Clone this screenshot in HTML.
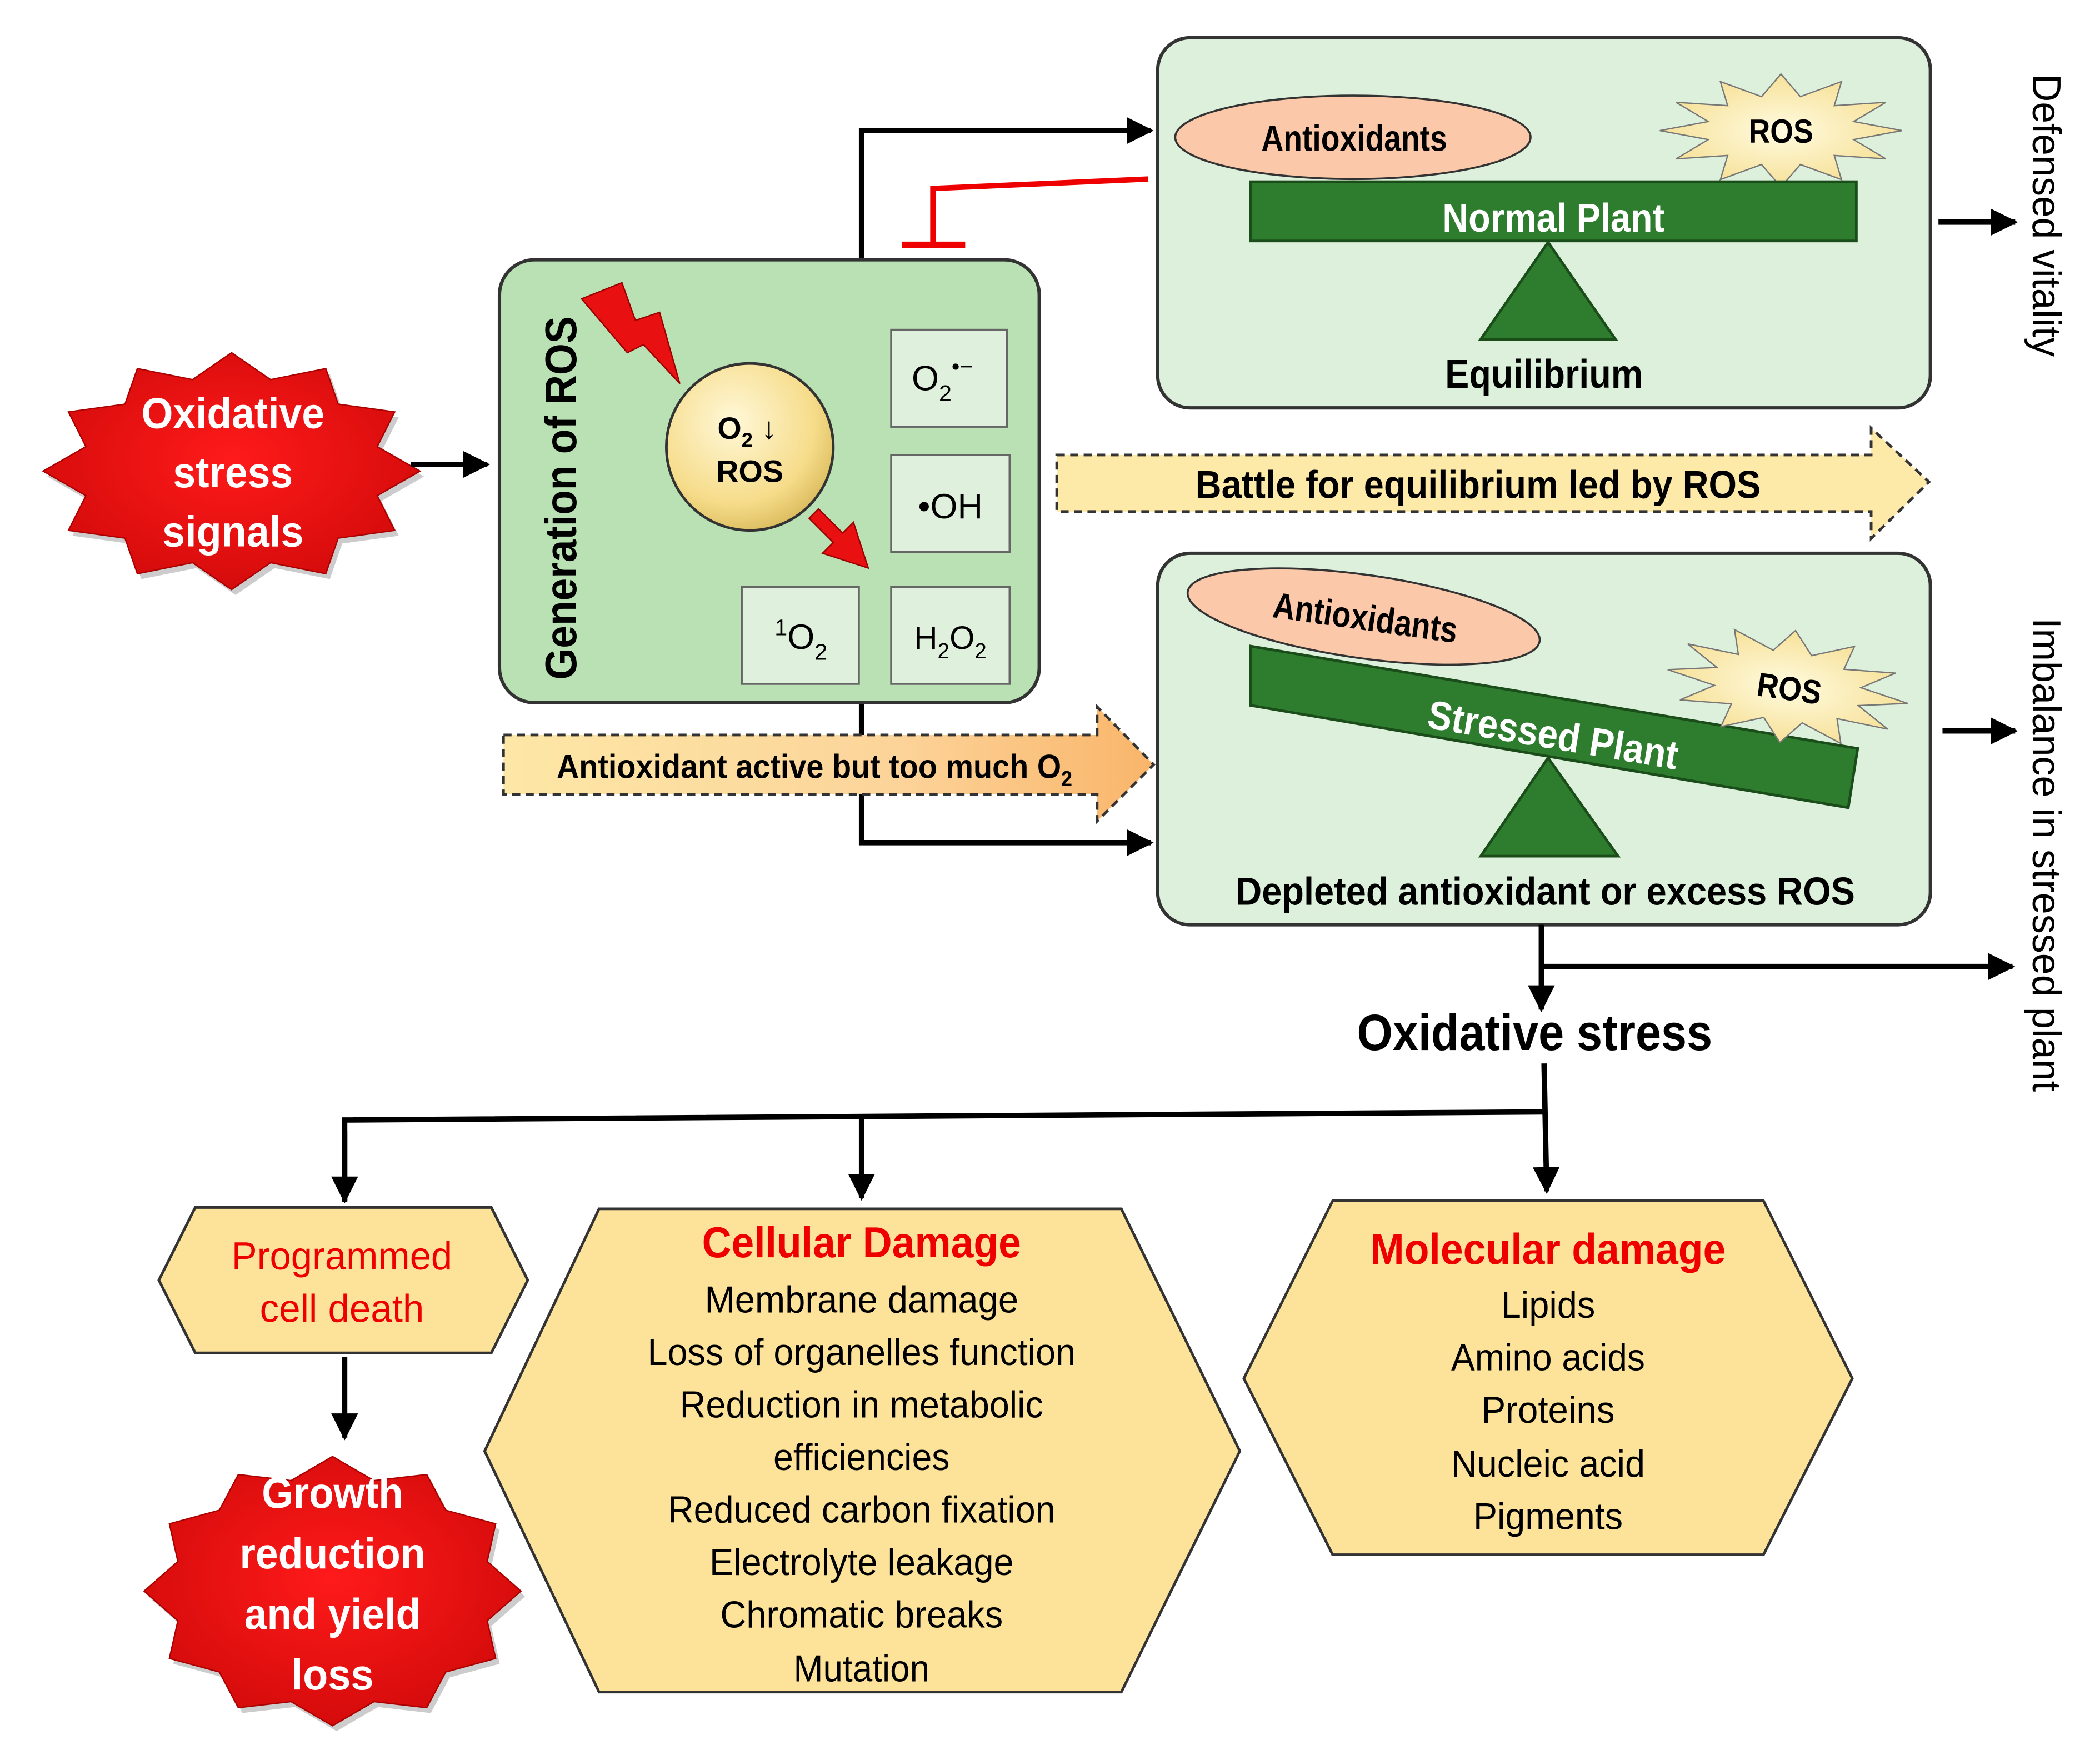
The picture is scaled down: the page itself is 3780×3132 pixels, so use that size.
<!DOCTYPE html>
<html><head><meta charset="utf-8"><style>
html,body{margin:0;padding:0;background:#fff}
svg{display:block}
text{font-family:"Liberation Sans",sans-serif}
</style></head><body>
<svg width="3780" height="3132" viewBox="0 0 1560 1292.6" xmlns="http://www.w3.org/2000/svg">
<defs>
<marker id="ah" viewBox="0 0 10 10" refX="9" refY="5" markerWidth="5" markerHeight="5" orient="auto" markerUnits="strokeWidth"><path d="M0,0 L10,5 L0,10 z" fill="#000"/></marker>
<radialGradient id="cg" cx="0.4" cy="0.35" r="0.7"><stop offset="0" stop-color="#fff8d8"/><stop offset="0.7" stop-color="#f6dc8a"/><stop offset="1" stop-color="#d9b95a"/></radialGradient>
<radialGradient id="rg" cx="0.5" cy="0.45" r="0.6"><stop offset="0" stop-color="#ff1a1a"/><stop offset="1" stop-color="#d10a0a"/></radialGradient>
<radialGradient id="yg" cx="0.5" cy="0.5" r="0.6"><stop offset="0" stop-color="#fffbe0"/><stop offset="1" stop-color="#f5dc8a"/></radialGradient>
<linearGradient id="og" x1="0" x2="1" y1="0" y2="0"><stop offset="0" stop-color="#fde7a6"/><stop offset="0.6" stop-color="#fcd49a"/><stop offset="1" stop-color="#f9b56a"/></linearGradient>
<polygon id="ros" points="1413,97 1377,103.7 1400.9,118 1362.6,115.5 1368,133.4 1337.4,122.2 1323,139 1308.6,122.2 1278,133.4 1283.4,115.5 1245.1,118 1269,103.7 1233,97 1269,90.3 1245.1,76 1283.4,78.5 1278,60.6 1308.6,71.8 1323,55 1337.4,71.8 1368,60.6 1362.6,78.5 1400.9,76 1377,90.3"/>
</defs>
<g font-stretch="condensed">
<polygon transform="translate(3,4)" fill="#999" opacity="0.5" points="312,350 280.2,368.2 293.2,394 251.2,399.8 242,426.2 201,418 172,438 143,418 102,426.2 92.8,399.8 50.8,394 63.8,368.2 32,350 63.8,331.8 50.8,306 92.8,300.2 102,273.8 143,282 172,262 201,282 242,273.8 251.2,300.2 293.2,306 280.2,331.8"/>
<polygon fill="url(#rg)" stroke="#a00" stroke-width="1" points="312,350 280.2,368.2 293.2,394 251.2,399.8 242,426.2 201,418 172,438 143,418 102,426.2 92.8,399.8 50.8,394 63.8,368.2 32,350 63.8,331.8 50.8,306 92.8,300.2 102,273.8 143,282 172,262 201,282 242,273.8 251.2,300.2 293.2,306 280.2,331.8"/>
<text x="173" y="318" font-size="32" font-weight="bold" fill="#fff" text-anchor="middle" textLength="136" lengthAdjust="spacingAndGlyphs">Oxidative</text>
<text x="173" y="362" font-size="32" font-weight="bold" fill="#fff" text-anchor="middle" textLength="89" lengthAdjust="spacingAndGlyphs">stress</text>
<text x="173" y="406" font-size="32" font-weight="bold" fill="#fff" text-anchor="middle" textLength="105" lengthAdjust="spacingAndGlyphs">signals</text>
<line x1="305" y1="345" x2="362" y2="345" stroke="#000" stroke-width="4" marker-end="url(#ah)"/>

<polyline points="640,193 640,97 855,97" fill="none" stroke="#000" stroke-width="4" marker-end="url(#ah)"/>
<polyline points="640,522 640,626 855,626" fill="none" stroke="#000" stroke-width="4" marker-end="url(#ah)"/>
<polyline points="853,133 693,140 693,182" fill="none" stroke="#e00" stroke-width="4"/>
<line x1="670" y1="182" x2="717" y2="182" stroke="#e00" stroke-width="5"/>

<rect x="371" y="193" width="401" height="329" rx="26" fill="#b9e1b3" stroke="#333" stroke-width="2.5"/>
<text transform="translate(428,370) rotate(-90)" font-size="33" font-weight="bold" text-anchor="middle" textLength="270" lengthAdjust="spacingAndGlyphs">Generation of ROS</text>
<polygon points="432,222 462,210 472,238 490,232 505,285 478,256 466,262" fill="#e81010" stroke="#900" stroke-width="1"/>
<circle cx="557" cy="332" r="62" fill="url(#cg)" stroke="#333" stroke-width="2"/>
<text x="555" y="326" font-size="23" font-weight="bold" text-anchor="middle">O<tspan font-size="15" dy="6">2</tspan><tspan dy="-6"> ↓</tspan></text>
<text x="557" y="358" font-size="23" font-weight="bold" text-anchor="middle">ROS</text>
<polygon points="608,378 626,396 634,388 645,422 611,411 619,403 601,385" fill="#e81010" stroke="#900" stroke-width="1"/>
<rect x="662" y="245" width="86" height="72" fill="#dff0dc" stroke="#666" stroke-width="1.5"/>
<text x="700" y="290" font-size="26" text-anchor="middle">O<tspan font-size="17" dy="8">2</tspan><tspan font-size="17" dy="-20">•−</tspan></text>
<rect x="662" y="338" width="88" height="72" fill="#dff0dc" stroke="#666" stroke-width="1.5"/>
<text x="706" y="385" font-size="26" text-anchor="middle">•OH</text>
<rect x="551" y="436" width="87" height="72" fill="#dff0dc" stroke="#666" stroke-width="1.5"/>
<text x="595" y="482" font-size="26" text-anchor="middle"><tspan font-size="17" dy="-10">1</tspan><tspan dy="10">O</tspan><tspan font-size="17" dy="8">2</tspan></text>
<rect x="662" y="436" width="88" height="72" fill="#dff0dc" stroke="#666" stroke-width="1.5"/>
<text x="706" y="482" font-size="24" text-anchor="middle">H<tspan font-size="16" dy="7">2</tspan><tspan dy="-7">O</tspan><tspan font-size="16" dy="7">2</tspan></text>

<rect x="860" y="28" width="574" height="275" rx="24" fill="#ddf0dc" stroke="#333" stroke-width="2.5"/>
<ellipse cx="1005" cy="102" rx="132" ry="31" fill="#fbc9a9" stroke="#333" stroke-width="1.5"/>
<text x="1006" y="112" font-size="27" font-weight="bold" text-anchor="middle" textLength="138" lengthAdjust="spacingAndGlyphs">Antioxidants</text>
<use href="#ros" fill="url(#yg)" stroke="#777" stroke-width="1"/>
<text x="1323" y="106" font-size="25" font-weight="bold" text-anchor="middle" textLength="48" lengthAdjust="spacingAndGlyphs">ROS</text>
<rect x="929" y="135" width="450" height="44" fill="#2e7d2e" stroke="#1a4d1a" stroke-width="2"/>
<text x="1154" y="172" font-size="30" font-weight="bold" fill="#fff" text-anchor="middle" textLength="165" lengthAdjust="spacingAndGlyphs">Normal Plant</text>
<polygon points="1150,180 1100,252 1200,252" fill="#2e7d2e" stroke="#1a4d1a" stroke-width="2"/>
<text x="1147" y="288" font-size="30" font-weight="bold" text-anchor="middle" textLength="147" lengthAdjust="spacingAndGlyphs">Equilibrium</text>
<line x1="1440" y1="165" x2="1497" y2="165" stroke="#000" stroke-width="4" marker-end="url(#ah)"/>
<text transform="translate(1510,160) rotate(90)" font-size="30" text-anchor="middle" textLength="210" lengthAdjust="spacingAndGlyphs">Defensed vitality</text>

<polygon points="785,338 1390,338 1390,318 1433,358 1390,400 1390,380 785,380" fill="#fde9a8" stroke="#333" stroke-width="2" stroke-dasharray="6,4"/>
<text x="1098" y="370" font-size="29" font-weight="bold" text-anchor="middle" textLength="420" lengthAdjust="spacingAndGlyphs">Battle for equilibrium led by ROS</text>

<rect x="860" y="411" width="574" height="276" rx="24" fill="#ddf0dc" stroke="#333" stroke-width="2.5"/>
<polygon points="929,480 1380,556 1373,600 929,524" fill="#2e7d2e" stroke="#1a4d1a" stroke-width="2"/>
<text transform="translate(1152,556) rotate(9.5)" font-size="30" font-weight="bold" fill="#fff" text-anchor="middle" textLength="188" lengthAdjust="spacingAndGlyphs">Stressed Plant</text>
<ellipse cx="1013" cy="458" rx="132" ry="31" transform="rotate(8 1013 458)" fill="#fbc9a9" stroke="#333" stroke-width="1.5"/>
<text transform="translate(1013,468) rotate(8)" font-size="27" font-weight="bold" text-anchor="middle" textLength="138" lengthAdjust="spacingAndGlyphs">Antioxidants</text>
<g transform="rotate(8 1328 510)"><use href="#ros" transform="translate(5,413)" fill="url(#yg)" stroke="#777" stroke-width="1"/></g>
<text transform="translate(1328,520) rotate(8)" font-size="25" font-weight="bold" text-anchor="middle" textLength="48" lengthAdjust="spacingAndGlyphs">ROS</text>
<polygon points="1150,563 1100,636 1202,636" fill="#2e7d2e" stroke="#1a4d1a" stroke-width="2"/>
<text x="1148" y="672" font-size="29" font-weight="bold" text-anchor="middle" textLength="460" lengthAdjust="spacingAndGlyphs">Depleted antioxidant or excess ROS</text>
<line x1="1443" y1="543" x2="1497" y2="543" stroke="#000" stroke-width="4" marker-end="url(#ah)"/>
<text transform="translate(1510,635) rotate(90)" font-size="30" text-anchor="middle" textLength="352" lengthAdjust="spacingAndGlyphs">Imbalance in stressed plant</text>

<polygon points="374,546 815,546 815,525 857,568 815,610 815,590 374,590" fill="url(#og)" stroke="#333" stroke-width="2" stroke-dasharray="6,4"/>
<text x="605" y="578" font-size="25" font-weight="bold" text-anchor="middle" textLength="383" lengthAdjust="spacingAndGlyphs">Antioxidant active but too much O<tspan font-size="16" dy="6">2</tspan></text>

<line x1="1145" y1="687" x2="1145" y2="750" stroke="#000" stroke-width="4" marker-end="url(#ah)"/>
<polyline points="1145,718 1495,718" fill="none" stroke="#000" stroke-width="4" marker-end="url(#ah)"/>
<text x="1140" y="780" font-size="38" font-weight="bold" text-anchor="middle" textLength="264" lengthAdjust="spacingAndGlyphs">Oxidative stress</text>
<line x1="1147" y1="790" x2="1149" y2="885" stroke="#000" stroke-width="4" marker-end="url(#ah)"/>
<polyline points="256,893 256,832 1147,826" fill="none" stroke="#000" stroke-width="4"/>
<line x1="256" y1="840" x2="256" y2="892" stroke="#000" stroke-width="4" marker-end="url(#ah)"/>
<line x1="640" y1="830" x2="640" y2="890" stroke="#000" stroke-width="4" marker-end="url(#ah)"/>

<polygon points="145,897 365,897 392,951 365,1005 145,1005 118,951" fill="#fde39a" stroke="#333" stroke-width="2"/>
<text x="254" y="943" font-size="29" fill="#e00" text-anchor="middle" textLength="164" lengthAdjust="spacingAndGlyphs">Programmed</text>
<text x="254" y="982" font-size="29" fill="#e00" text-anchor="middle" textLength="122" lengthAdjust="spacingAndGlyphs">cell death</text>
<line x1="256" y1="1008" x2="256" y2="1068" stroke="#000" stroke-width="4" marker-end="url(#ah)"/>

<polygon transform="translate(3,4)" fill="#999" opacity="0.5" points="387,1182 361.9,1204 368.2,1232 331.1,1242.1 317,1268.6 277.8,1264.1 247,1282 216.2,1264.1 177,1268.6 162.9,1242.1 125.8,1232 132.1,1204 107,1182 132.1,1160 125.8,1132 162.9,1121.9 177,1095.4 216.2,1099.9 247,1082 277.8,1099.9 317,1095.4 331.1,1121.9 368.2,1132 361.9,1160"/>
<polygon fill="url(#rg)" stroke="#a00" stroke-width="1" points="387,1182 361.9,1204 368.2,1232 331.1,1242.1 317,1268.6 277.8,1264.1 247,1282 216.2,1264.1 177,1268.6 162.9,1242.1 125.8,1232 132.1,1204 107,1182 132.1,1160 125.8,1132 162.9,1121.9 177,1095.4 216.2,1099.9 247,1082 277.8,1099.9 317,1095.4 331.1,1121.9 368.2,1132 361.9,1160"/>
<text x="247" y="1120" font-size="32" font-weight="bold" fill="#fff" text-anchor="middle" textLength="105" lengthAdjust="spacingAndGlyphs">Growth</text>
<text x="247" y="1165" font-size="32" font-weight="bold" fill="#fff" text-anchor="middle" textLength="138" lengthAdjust="spacingAndGlyphs">reduction</text>
<text x="247" y="1210" font-size="32" font-weight="bold" fill="#fff" text-anchor="middle" textLength="131" lengthAdjust="spacingAndGlyphs">and yield</text>
<text x="247" y="1255" font-size="32" font-weight="bold" fill="#fff" text-anchor="middle" textLength="61" lengthAdjust="spacingAndGlyphs">loss</text>

<polygon points="445,898 833,898 921,1078 833,1257 445,1257 360,1078" fill="#fde39a" stroke="#333" stroke-width="2"/>
<text x="640" y="934" font-size="32" font-weight="bold" fill="#e00" text-anchor="middle" textLength="237" lengthAdjust="spacingAndGlyphs">Cellular Damage</text>
<g font-size="28" text-anchor="middle">
<text x="640" y="975" textLength="233" lengthAdjust="spacingAndGlyphs">Membrane damage</text>
<text x="640" y="1014" textLength="318" lengthAdjust="spacingAndGlyphs">Loss of organelles function</text>
<text x="640" y="1053" textLength="270" lengthAdjust="spacingAndGlyphs">Reduction in metabolic</text>
<text x="640" y="1092" textLength="131" lengthAdjust="spacingAndGlyphs">efficiencies</text>
<text x="640" y="1131" textLength="288" lengthAdjust="spacingAndGlyphs">Reduced carbon fixation</text>
<text x="640" y="1170" textLength="226" lengthAdjust="spacingAndGlyphs">Electrolyte leakage</text>
<text x="640" y="1209" textLength="210" lengthAdjust="spacingAndGlyphs">Chromatic breaks</text>
<text x="640" y="1249" textLength="101" lengthAdjust="spacingAndGlyphs">Mutation</text>
</g>

<polygon points="990,892 1310,892 1376,1024 1310,1155 990,1155 924,1024" fill="#fde39a" stroke="#333" stroke-width="2"/>
<text x="1150" y="939" font-size="32" font-weight="bold" fill="#e00" text-anchor="middle" textLength="264" lengthAdjust="spacingAndGlyphs">Molecular damage</text>
<g font-size="28" text-anchor="middle">
<text x="1150" y="979" textLength="70" lengthAdjust="spacingAndGlyphs">Lipids</text>
<text x="1150" y="1018" textLength="144" lengthAdjust="spacingAndGlyphs">Amino acids</text>
<text x="1150" y="1057" textLength="99" lengthAdjust="spacingAndGlyphs">Proteins</text>
<text x="1150" y="1097" textLength="144" lengthAdjust="spacingAndGlyphs">Nucleic acid</text>
<text x="1150" y="1136" textLength="111" lengthAdjust="spacingAndGlyphs">Pigments</text>
</g>
</g>
</svg>
</body></html>
